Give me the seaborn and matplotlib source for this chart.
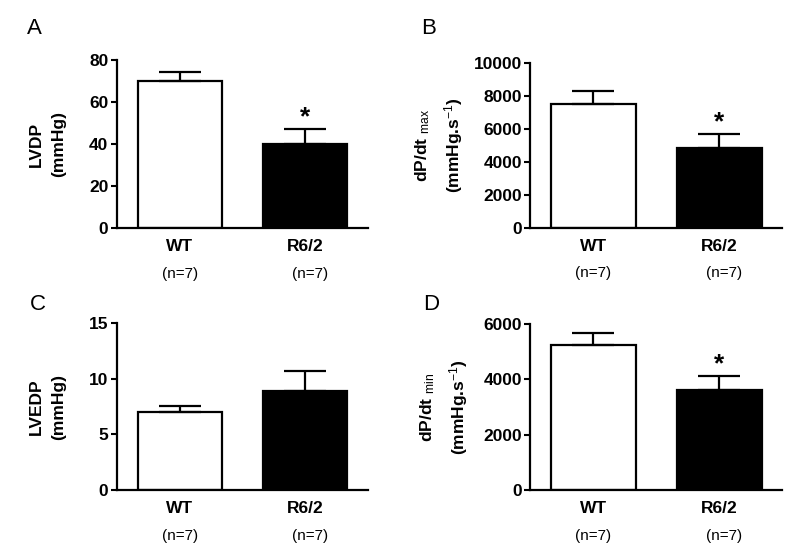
import matplotlib
matplotlib.use("Agg")
import matplotlib.pyplot as plt
import seaborn as sns

# Groups and sample sizes
GROUPS = ["WT", "R6/2"]
N_PER_GROUP = [7, 7]

# Mean +/- SEM
LVDP_MEAN = [70.1, 39.9]
LVDP_SEM = [4.5, 7.2]
DPDT_MAX_MEAN = [7500, 4830]
DPDT_MAX_SEM = [810, 830]
LVEDP_MEAN = [7.05, 8.85]
LVEDP_SEM = [0.48, 1.85]
DPDT_MIN_MEAN = [5230, 3600]
DPDT_MIN_SEM = [445, 530]

# Which group carries a significance star in each panel
STAR_A = [False, True]
STAR_B = [False, True]
STAR_C = [False, False]
STAR_D = [False, True]

BAR_COLORS = ["white", "black"]

sns.set_style("ticks")
plt.rcParams["font.family"] = ["Liberation Sans", "DejaVu Sans"]
plt.rcParams["mathtext.fontset"] = "custom"
plt.rcParams["mathtext.rm"] = "Liberation Sans"
plt.rcParams["mathtext.it"] = "Liberation Sans"
plt.rcParams["mathtext.bf"] = "Liberation Sans:bold"
for key in ["text.color", "axes.labelcolor", "xtick.color", "ytick.color", "axes.edgecolor"]:
    plt.rcParams[key] = "black"


def draw_panel(ax, means, sems, stars, ylabel, label_x, yticks, letter, letter_xy):
    sns.barplot(
        x=GROUPS,
        y=means,
        hue=GROUPS,
        palette=BAR_COLORS,
        edgecolor="black",
        linewidth=1.6,
        width=0.67,
        legend=False,
        ax=ax,
    )
    # upper-only error bars
    ax.errorbar(
        range(len(GROUPS)),
        means,
        yerr=[[0] * len(sems), sems],
        fmt="none",
        ecolor="black",
        elinewidth=1.6,
        capsize=15,
        capthick=1.6,
        zorder=1,
    )
    for i, flag in enumerate(stars):
        if flag:
            ax.annotate(
                "*",
                xy=(i, means[i] + sems[i]),
                xytext=(0, 0),
                textcoords="offset points",
                ha="center",
                va="bottom",
                fontsize=19,
                fontweight="bold",
            )

    ax.set_xlim(-0.5, 1.5)
    ax.set_ylim(yticks[0], yticks[-1])
    ax.set_yticks(yticks)
    ax.set_ylabel(ylabel, fontsize=12.5, fontweight="bold", linespacing=1.6, va="center")
    ax.yaxis.set_label_coords(label_x, 0.5)
    ax.set_xlabel("")
    ax.tick_params(axis="y", labelsize=12.5, width=1.5, length=4, pad=2)
    ax.tick_params(axis="x", labelsize=12.5, length=0, pad=8)
    for lab in ax.get_yticklabels() + ax.get_xticklabels():
        lab.set_fontweight("bold")
    for side in ["left", "bottom"]:
        ax.spines[side].set_linewidth(1.6)
    sns.despine(ax=ax)

    # sample size under each group
    for i, n in enumerate(N_PER_GROUP):
        ax.annotate(
            f"(n={n})",
            xy=(i + 0.04 * i, 0),
            xycoords=("data", "axes fraction"),
            xytext=(0, -33),
            textcoords="offset points",
            ha="center",
            va="center",
            fontsize=11,
        )

    ax.figure.text(letter_xy[0], letter_xy[1], letter, fontsize=16, ha="left", va="top")


fig = plt.figure(figsize=(8, 5.58), dpi=100)
ax_a = fig.add_axes([0.146, 0.591, 0.314, 0.301])
ax_b = fig.add_axes([0.663, 0.592, 0.315, 0.295])
ax_c = fig.add_axes([0.146, 0.122, 0.314, 0.299])
ax_d = fig.add_axes([0.663, 0.122, 0.315, 0.297])

draw_panel(ax_a, LVDP_MEAN, LVDP_SEM, STAR_A, "LVDP\n(mmHg)", -0.277,
           [0, 20, 40, 60, 80], "A", (0.034, 0.968))
draw_panel(ax_b, DPDT_MAX_MEAN, DPDT_MAX_SEM, STAR_B,
           "dP/dt $_{\\mathrm{max}}$\n(mmHg.s$^{\\mathrm{-1}}$)", -0.361,
           [0, 2000, 4000, 6000, 8000, 10000], "B", (0.527, 0.968))
draw_panel(ax_c, LVEDP_MEAN, LVEDP_SEM, STAR_C, "LVEDP\n(mmHg)", -0.277,
           [0, 5, 10, 15], "C", (0.0375, 0.474))
draw_panel(ax_d, DPDT_MIN_MEAN, DPDT_MIN_SEM, STAR_D,
           "dP/dt $_{\\mathrm{min}}$\n(mmHg.s$^{\\mathrm{-1}}$)", -0.341,
           [0, 2000, 4000, 6000], "D", (0.529, 0.474))

fig.savefig("out.png", dpi=100, facecolor="white")
